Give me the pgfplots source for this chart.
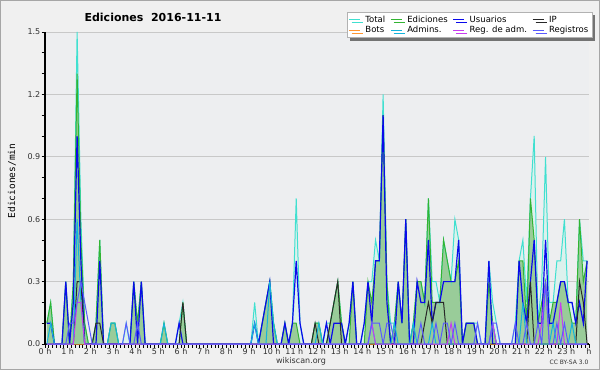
\documentclass[border=0pt]{standalone}
\usepackage{pgfplots}
\pgfplotsset{compat=1.18}
\usepackage{pgfplotstable}
\usepackage{fontspec}
\setmainfont{DejaVu Sans}
\newfontfamily\monofont{DejaVu Sans Mono}
\usetikzlibrary{shadows}
\definecolor{outerbg}{RGB}{240,240,240}
\definecolor{plotbg}{RGB}{237,238,240}
\definecolor{gridgray}{RGB}{200,200,200}
\definecolor{cTotal}{RGB}{64,224,208}
\definecolor{cTotFill}{RGB}{220,241,237}
\definecolor{cEd}{RGB}{50,180,50}
\definecolor{cEdFill}{RGB}{153,204,153}
\definecolor{cUser}{RGB}{10,10,235}
\definecolor{cIP}{RGB}{40,40,40}
\definecolor{cBot}{RGB}{255,150,50}
\definecolor{cAdm}{RGB}{20,180,220}
\definecolor{cRA}{RGB}{200,60,240}
\definecolor{cReg}{RGB}{90,90,255}
\definecolor{ticktext}{RGB}{50,50,50}
\pgfplotsset{
  layers/mylayers/.define layer set={axis background,axis grid,main,axis ticks,axis lines,axis tick labels,axis descriptions,axis foreground}{},
}
\pgfplotstableread{
i T E U IP B A RA R
0 0.1 0.1 0.1 0 0 0 0 0
1 0.2 0.2 0.1 0 0 0.1 0 0
2 0 0 0 0 0 0 0 0
3 0 0 0 0 0 0 0 0
4 0 0 0 0 0 0 0 0
5 0.3 0.3 0.3 0 0 0 0 0
6 0 0 0 0 0 0 0 0.1
7 0.3 0.3 0.2 0 0 0 0 0.1
8 1.5 1.3 1.0 0.3 0 0.6 0.2 0.2
9 0.6 0.5 0.4 0.3 0 0.2 0.2 0.3
10 0.1 0.1 0 0 0 0 0 0.2
11 0 0 0 0 0 0 0 0.1
12 0 0 0 0 0 0 0 0
13 0.1 0.1 0 0.1 0 0 0 0
14 0.5 0.5 0.4 0.1 0 0 0 0
15 0 0 0 0 0 0 0 0
16 0 0 0 0 0 0 0 0
17 0.1 0.1 0 0 0 0.1 0 0
18 0.1 0.1 0 0 0 0.1 0 0
19 0 0 0 0 0 0 0 0
20 0 0 0 0 0 0 0 0
21 0.1 0 0 0 0 0 0 0.1
22 0 0 0 0 0 0 0 0
23 0.3 0.3 0.3 0 0 0 0 0
24 0.1 0.1 0 0 0 0 0 0.1
25 0.3 0.3 0.3 0 0 0 0 0
26 0 0 0 0 0 0 0 0
27 0 0 0 0 0 0 0 0
28 0 0 0 0 0 0 0 0
29 0 0 0 0 0 0 0 0
30 0 0 0 0 0 0 0 0
31 0.1 0.1 0 0 0 0.1 0 0
32 0 0 0 0 0 0 0 0
33 0 0 0 0 0 0 0 0
34 0 0 0 0 0 0 0 0
35 0.1 0 0.1 0 0 0 0 0
36 0.2 0.2 0 0.2 0 0 0 0
37 0 0 0 0 0 0 0 0
38 0 0 0 0 0 0 0 0
39 0 0 0 0 0 0 0 0
40 0 0 0 0 0 0 0 0
41 0 0 0 0 0 0 0 0
42 0 0 0 0 0 0 0 0
43 0 0 0 0 0 0 0 0
44 0 0 0 0 0 0 0 0
45 0 0 0 0 0 0 0 0
46 0 0 0 0 0 0 0 0
47 0 0 0 0 0 0 0 0
48 0 0 0 0 0 0 0 0
49 0 0 0 0 0 0 0 0
50 0 0 0 0 0 0 0 0
51 0 0 0 0 0 0 0 0
52 0 0 0 0 0 0 0 0
53 0 0 0 0 0 0 0 0
54 0 0 0 0 0 0 0 0
55 0.2 0 0.1 0 0 0.1 0 0
56 0 0 0 0 0 0 0 0
57 0.1 0.1 0.1 0 0 0 0 0
58 0.2 0.2 0.2 0 0 0 0 0
59 0.3 0.3 0.3 0 0 0.3 0 0
60 0.1 0.1 0 0 0 0.1 0 0
61 0 0 0 0 0 0 0 0
62 0 0 0 0 0 0 0 0
63 0.1 0.1 0.1 0 0 0 0 0
64 0 0 0 0 0 0 0 0
65 0.1 0.1 0.1 0 0 0 0 0
66 0.7 0.1 0.4 0 0 0 0 0
67 0.1 0 0.1 0 0 0 0 0
68 0 0 0 0 0 0 0 0
69 0 0 0 0 0 0 0 0
70 0 0 0 0 0 0 0 0
71 0.1 0.1 0 0.1 0 0 0 0
72 0.1 0.1 0 0 0 0.1 0 0
73 0 0 0 0 0 0 0 0
74 0.1 0 0.1 0 0 0 0 0
75 0.1 0.1 0 0.1 0 0 0 0
76 0.2 0.2 0.1 0.2 0 0 0 0
77 0.3 0.3 0.1 0.3 0 0 0 0
78 0.1 0.1 0.1 0 0 0 0 0
79 0 0 0 0 0 0 0 0
80 0.1 0 0.1 0 0 0 0 0
81 0.3 0.3 0.3 0 0 0 0 0
82 0 0 0 0 0 0 0 0
83 0 0 0 0 0 0 0 0
84 0.1 0 0.1 0 0 0 0 0
85 0.3 0.3 0.3 0 0 0 0 0
86 0.3 0.2 0.1 0 0 0.1 0.1 0.1
87 0.5 0.4 0.4 0 0 0 0 0.1
88 0.4 0.4 0.4 0 0 0 0 0.1
89 1.2 1.1 1.1 0 0 0 0 0
90 0.3 0.3 0.2 0 0 0 0 0.1
91 0.1 0 0 0 0 0 0 0.1
92 0.1 0.1 0 0 0 0.1 0 0
93 0.3 0.3 0.3 0 0 0 0 0
94 0.1 0.1 0.1 0 0 0 0 0
95 0.6 0.6 0.6 0 0 0 0 0
96 0 0 0 0 0 0 0 0
97 0.1 0.1 0 0 0 0.1 0 0
98 0.3 0.3 0.3 0 0 0 0 0
99 0.3 0.3 0.2 0 0 0 0 0.1
100 0.2 0.2 0.2 0.1 0 0 0 0
101 0.7 0.7 0.5 0.2 0 0 0 0
102 0.3 0.2 0.1 0.1 0 0.1 0 0
103 0.3 0.2 0.2 0.2 0 0 0 0.1
104 0.2 0.2 0.2 0.2 0 0 0 0
105 0.5 0.5 0.3 0.2 0 0 0 0.1
106 0.4 0.4 0.3 0 0 0 0 0.1
107 0.3 0.3 0.3 0 0 0 0.1 0
108 0.6 0.3 0.3 0 0 0 0 0.1
109 0.5 0.4 0.5 0 0 0 0 0
110 0 0 0 0 0 0 0 0
111 0.1 0.1 0.1 0 0 0 0 0
112 0.1 0.1 0.1 0 0 0 0 0
113 0.1 0.1 0.1 0 0 0 0 0
114 0.1 0 0 0 0 0 0 0.1
115 0 0 0 0 0 0 0 0
116 0 0 0 0 0 0 0 0
117 0.4 0.3 0.4 0 0 0 0 0
118 0.2 0.1 0 0 0 0.1 0.1 0.1
119 0.1 0 0 0 0 0 0 0.1
120 0 0 0 0 0 0 0 0
121 0 0 0 0 0 0 0 0
122 0 0 0 0 0 0 0 0
123 0 0 0 0 0 0 0 0
124 0.1 0 0 0 0 0 0 0.1
125 0.4 0.4 0.4 0 0 0 0 0
126 0.5 0.4 0.2 0 0 0.2 0 0
127 0.2 0.1 0.1 0 0 0 0 0.1
128 0.7 0.7 0.3 0.3 0 0 0 0
129 1.0 0.5 0.5 0 0 0 0 0
130 0.1 0.1 0.1 0 0 0 0 0.1
131 0.3 0.2 0.1 0 0 0 0.1 0
132 0.9 0.3 0.5 0 0 0 0.3 0.3
133 0.2 0.1 0.1 0 0 0 0 0
134 0.2 0.2 0.1 0 0 0.1 0 0
135 0.4 0.2 0.2 0 0 0 0 0.1
136 0.4 0.3 0.3 0 0 0 0.2 0
137 0.6 0.3 0.3 0 0 0 0 0.1
138 0.2 0.2 0.2 0 0 0 0 0
139 0.2 0.1 0.2 0 0 0.1 0 0
140 0.1 0.1 0.1 0 0 0 0 0
141 0.6 0.6 0.2 0.3 0 0 0 0
142 0.4 0.3 0.1 0.2 0 0 0 0
143 0.4 0.4 0.4 0 0 0 0 0
}\data
\begin{document}
\begin{tikzpicture}
\fill[outerbg] (0pt,0pt) rectangle (600pt,370pt);
\draw[gray!70, line width=1pt] (0.5pt,0.5pt) rectangle (599.5pt,369.5pt);
\begin{axis}[
  set layers=mylayers,
  at={(45pt,26pt)}, anchor=south west,
  scale only axis, width=544pt, height=312pt,
  xmin=0, xmax=24, ymin=0, ymax=1.5,
  axis x line*=bottom, axis y line*=left,
  axis line style={black, line width=1.2pt},
  axis background/.style={fill=plotbg},
  xtick={0,1,2,3,4,5,6,7,8,9,10,11,12,13,14,15,16,17,18,19,20,21,22,23,24},
  xticklabels={0 h,1 h,2 h,3 h,4 h,5 h,6 h,7 h,8 h,9 h,10 h,11 h,12 h,13 h,14 h,15 h,16 h,17 h,18 h,19 h,20 h,21 h,22 h,23 h,h},
  minor x tick num=5,
  ytick={0,0.3,0.6,0.9,1.2,1.5},
  minor y tick num=2,
  tick align=outside,
  major tick length=3.5pt, minor tick length=3.5pt,
  every tick/.style={black, line width=0.9pt},
  ymajorgrids, grid style={color=gridgray, line width=0.8pt},
  ticklabel style={font=\fontsize{8}{9}\selectfont, text=ticktext, inner sep=1pt},
  yticklabel style={/pgf/number format/.cd, fixed, fixed zerofill, precision=1, assume math mode=true},
  legend columns=4,
  legend image code/.code={\draw[#1, line width=1pt] (0pt,0pt) -- (11pt,0pt);},
  legend style={at={(1.0055,1.064)}, anchor=north east, draw=gray!60, fill=white,
    font=\fontsize{8.5}{9}\selectfont, inner sep=1.5pt, row sep=-1.5pt,
    cells={anchor=west},
    /tikz/every odd column/.append style={column sep=3pt},
    /tikz/every even column/.append style={column sep=3pt},
    drop shadow={shadow xshift=3pt, shadow yshift=-3pt, fill=black!55, opacity=1}},
]
\addplot[fill=cTotFill, draw=none, forget plot] table[x expr={(\thisrow{i}+0.5)/6}, y=T] {\data} \closedcycle;
\addplot[fill=cEdFill, draw=none, forget plot] table[x expr={(\thisrow{i}+0.5)/6}, y=E] {\data} \closedcycle;
\addplot[cTotal, line width=1pt] table[x expr={(\thisrow{i}+0.5)/6}, y=T] {\data};
\addlegendentry{Total}
\addplot[cEd, line width=1pt] table[x expr={(\thisrow{i}+0.5)/6}, y=E] {\data};
\addlegendentry{Ediciones}
\addplot[cUser, line width=1.2pt] table[x expr={(\thisrow{i}+0.5)/6}, y=U] {\data};
\addlegendentry{Usuarios}
\addplot[cIP, line width=1pt] table[x expr={(\thisrow{i}+0.5)/6}, y=IP] {\data};
\addlegendentry{IP}
\addplot[cBot, line width=1pt] table[x expr={(\thisrow{i}+0.5)/6}, y=B] {\data};
\addlegendentry{Bots}
\addplot[cAdm, line width=1pt] table[x expr={(\thisrow{i}+0.5)/6}, y=A] {\data};
\addlegendentry{Admins.}
\addplot[cRA, line width=1pt] table[x expr={(\thisrow{i}+0.5)/6}, y=RA] {\data};
\addlegendentry{Reg. de adm.}
\addplot[cReg, line width=1pt] table[x expr={(\thisrow{i}+0.5)/6}, y=R] {\data};
\addlegendentry{Registros}
\end{axis}
\node[font=\bfseries\fontsize{11}{13}\selectfont] at (153pt,353pt) {Ediciones\ \ 2016-11-11};
\node[rotate=90, font=\monofont\fontsize{9.5}{11}\selectfont] at (12pt,189pt) {Ediciones/min};
\node[font=\fontsize{8}{9}\selectfont, text=ticktext] at (301pt,9pt) {wikiscan.org};
\node[font=\fontsize{6}{7}\selectfont, text=ticktext] at (569pt,8pt) {CC BY-SA 3.0};
\end{tikzpicture}
\end{document}
